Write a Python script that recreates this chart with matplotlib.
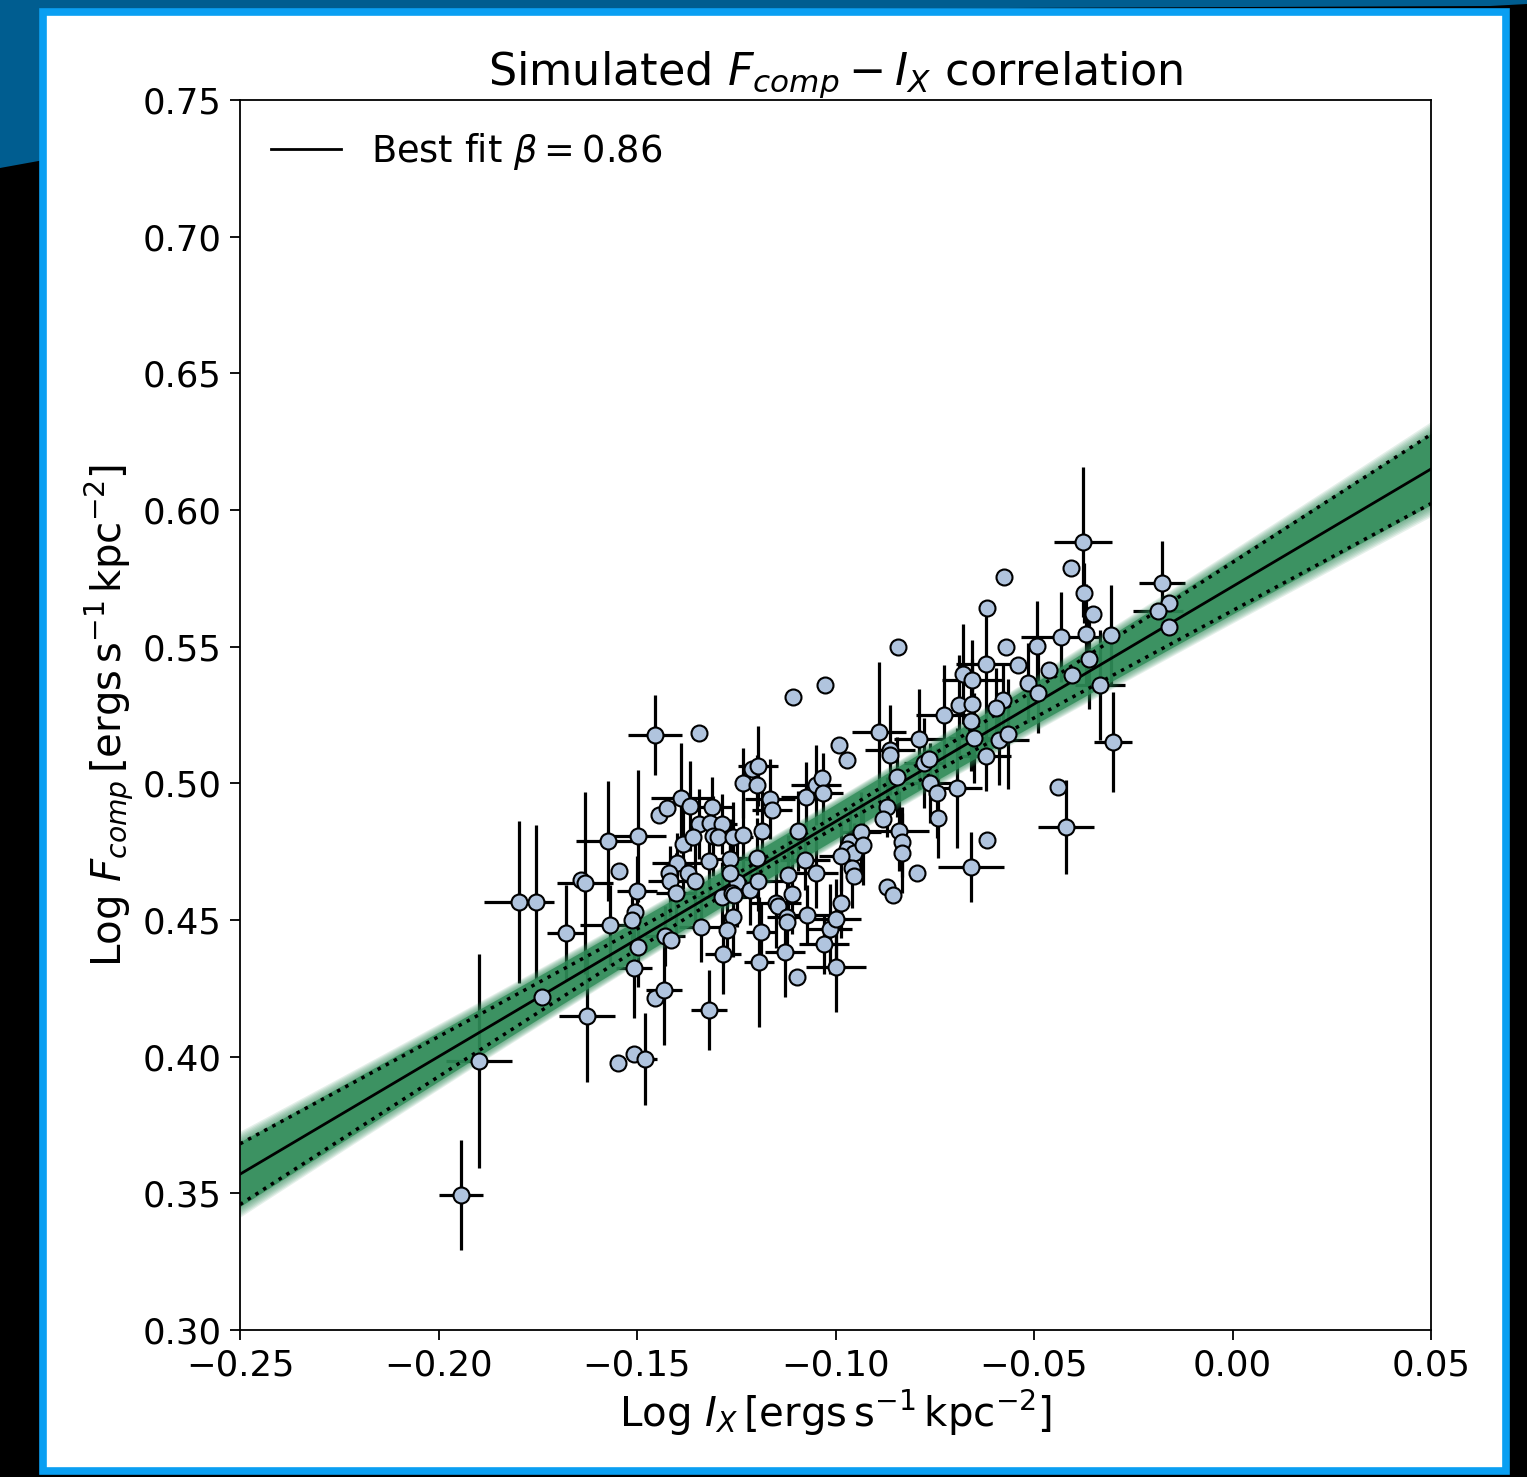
import numpy as np
import matplotlib
matplotlib.use("Agg")
import matplotlib.pyplot as plt
from matplotlib.patches import Rectangle, Polygon

# ---- simulated sample: log I_X, log F_comp and their 1-sigma errors ----
log_ix = [
    -0.1943, -0.1898, -0.1739, -0.1797, -0.1754, -0.1679, -0.1626, -0.1641, -0.1631, -0.1573,
    -0.1545, -0.1568, -0.1497, -0.1500, -0.1505, -0.1513, -0.1497, -0.1508, -0.1455, -0.1432,
    -0.1548, -0.1508, -0.1480, -0.1455, -0.1344, -0.1389, -0.1445, -0.1424, -0.1366, -0.1311,
    -0.1344, -0.1316, -0.1286, -0.1384, -0.1359, -0.1309, -0.1296, -0.1258, -0.1399, -0.1419,
    -0.1417, -0.1402, -0.1372, -0.1354, -0.1319, -0.1266, -0.1248, -0.1286, -0.1261, -0.1258,
    -0.1273, -0.1429, -0.1414, -0.1339, -0.1283, -0.1319, -0.1233, -0.1210, -0.1195, -0.1198,
    -0.1165, -0.1160, -0.1233, -0.1185, -0.1198, -0.1215, -0.1195, -0.1266, -0.1256, -0.1193,
    -0.1188, -0.1107, -0.1026, -0.1074, -0.1049, -0.1034, -0.1031, -0.1094, -0.1077, -0.1120,
    -0.1049, -0.1110, -0.1150, -0.1145, -0.1122, -0.1122, -0.1072, -0.1127, -0.1097, -0.1029,
    -0.1014, -0.0999, -0.0986, -0.0999, -0.0971, -0.0991, -0.0963, -0.0971, -0.0953, -0.0986,
    -0.0958, -0.0953, -0.0936, -0.0931, -0.0840, -0.0832, -0.0832, -0.0843, -0.0890, -0.0863,
    -0.0863, -0.0845, -0.0870, -0.0880, -0.0870, -0.0855, -0.0790, -0.0777, -0.0764, -0.0762,
    -0.0744, -0.0742, -0.0694, -0.0795, -0.0727, -0.0689, -0.0656, -0.0659, -0.0651, -0.0588,
    -0.0565, -0.0621, -0.0679, -0.0656, -0.0621, -0.0540, -0.0462, -0.0571, -0.0492, -0.0576,
    -0.0618, -0.0515, -0.0490, -0.0578, -0.0596, -0.0404, -0.0361, -0.0432, -0.0369, -0.0306,
    -0.0351, -0.0374, -0.0407, -0.0377, -0.0334, -0.0301, -0.0440, -0.0419, -0.0659, -0.0618,
    -0.0178, -0.0160, -0.0188, -0.0160,
]
log_fcomp = [
    0.3494, 0.3984, 0.4218, 0.4566, 0.4566, 0.4452, 0.4149, 0.4646, 0.4635, 0.4789,
    0.4679, 0.4482, 0.4807, 0.4606, 0.4529, 0.4500, 0.4401, 0.4324, 0.4215, 0.4244,
    0.3977, 0.4010, 0.3991, 0.5177, 0.5184, 0.4946, 0.4884, 0.4910, 0.4917, 0.4913,
    0.4851, 0.4855, 0.4851, 0.4778, 0.4804, 0.4807, 0.4804, 0.4804, 0.4709, 0.4672,
    0.4643, 0.4599, 0.4672, 0.4643, 0.4716, 0.4723, 0.4639, 0.4584, 0.4599, 0.4511,
    0.4463, 0.4442, 0.4427, 0.4474, 0.4376, 0.4171, 0.5001, 0.5053, 0.5064, 0.4994,
    0.4943, 0.4903, 0.4811, 0.4826, 0.4727, 0.4610, 0.4643, 0.4672, 0.4592, 0.4346,
    0.4456, 0.5316, 0.5360, 0.4950, 0.4994, 0.5020, 0.4965, 0.4826, 0.4720, 0.4665,
    0.4672, 0.4595, 0.4562, 0.4551, 0.4511, 0.4493, 0.4518, 0.4383, 0.4292, 0.4412,
    0.4467, 0.4504, 0.4562, 0.4328, 0.5085, 0.5140, 0.4785, 0.4760, 0.4745, 0.4734,
    0.4690, 0.4661, 0.4822, 0.4775, 0.4826, 0.4785, 0.4745, 0.5499, 0.5188, 0.5122,
    0.5104, 0.5023, 0.4913, 0.4870, 0.4621, 0.4592, 0.5162, 0.5074, 0.5089, 0.5001,
    0.4965, 0.4873, 0.4983, 0.4672, 0.5250, 0.5287, 0.5290, 0.5228, 0.5166, 0.5159,
    0.5181, 0.5100, 0.5400, 0.5378, 0.5437, 0.5433, 0.5415, 0.5499, 0.5503, 0.5755,
    0.5642, 0.5367, 0.5331, 0.5305, 0.5276, 0.5396, 0.5455, 0.5535, 0.5546, 0.5543,
    0.5620, 0.5696, 0.5788, 0.5883, 0.5360, 0.5151, 0.4987, 0.4840, 0.4694, 0.4793,
    0.5733, 0.5660, 0.5631, 0.5572,
]
err_ix = [
    0.0055, 0.0083, 0.0, 0.0088, 0.0, 0.0048, 0.0071, 0.0, 0.0071, 0.0081,
    0.0, 0.0076, 0.0071, 0.0050, 0.0, 0.0, 0.0, 0.0045, 0.0, 0.0045,
    0.0, 0.0, 0.0030, 0.0068, 0.0, 0.0076, 0.0, 0.0, 0.0, 0.0050,
    0.0, 0.0, 0.0038, 0.0, 0.0, 0.0, 0.0, 0.0050, 0.0063, 0.0,
    0.0055, 0.0050, 0.0, 0.0, 0.0, 0.0055, 0.0, 0.0063, 0.0, 0.0,
    0.0, 0.0050, 0.0, 0.0055, 0.0045, 0.0045, 0.0, 0.0, 0.0050, 0.0,
    0.0063, 0.0050, 0.0, 0.0, 0.0050, 0.0, 0.0063, 0.0, 0.0, 0.0038,
    0.0038, 0.0, 0.0, 0.0063, 0.0063, 0.0, 0.0050, 0.0, 0.0063, 0.0,
    0.0055, 0.0, 0.0063, 0.0, 0.0050, 0.0, 0.0055, 0.0050, 0.0, 0.0063,
    0.0055, 0.0063, 0.0, 0.0076, 0.0, 0.0, 0.0, 0.0, 0.0, 0.0055,
    0.0, 0.0, 0.0050, 0.0, 0.0076, 0.0, 0.0, 0.0, 0.0068, 0.0063,
    0.0, 0.0, 0.0, 0.0, 0.0, 0.0, 0.0063, 0.0050, 0.0, 0.0063,
    0.0, 0.0, 0.0063, 0.0, 0.0071, 0.0, 0.0, 0.0, 0.0063, 0.0076,
    0.0, 0.0063, 0.0, 0.0076, 0.0076, 0.0, 0.0, 0.0, 0.0, 0.0,
    0.0, 0.0, 0.0, 0.0, 0.0, 0.0, 0.0, 0.0101, 0.0, 0.0,
    0.0, 0.0, 0.0, 0.0073, 0.0063, 0.0048, 0.0, 0.0071, 0.0083, 0.0,
    0.0058, 0.0, 0.0063, 0.0,
]
err_fcomp = [
    0.0201, 0.0391, 0.0, 0.0296, 0.0282, 0.0176, 0.0241, 0.0, 0.0333, 0.0220,
    0.0, 0.0146, 0.0241, 0.0128, 0.0, 0.0110, 0.0146, 0.0183, 0.0, 0.0201,
    0.0, 0.0, 0.0168, 0.0146, 0.0, 0.0201, 0.0, 0.0, 0.0165, 0.0110,
    0.0128, 0.0, 0.0110, 0.0165, 0.0, 0.0146, 0.0, 0.0128, 0.0110, 0.0,
    0.0128, 0.0146, 0.0, 0.0146, 0.0128, 0.0146, 0.0165, 0.0128, 0.0, 0.0146,
    0.0110, 0.0110, 0.0, 0.0128, 0.0146, 0.0146, 0.0128, 0.0, 0.0146, 0.0110,
    0.0146, 0.0, 0.0128, 0.0146, 0.0146, 0.0128, 0.0110, 0.0110, 0.0, 0.0238,
    0.0110, 0.0, 0.0, 0.0128, 0.0146, 0.0, 0.0146, 0.0146, 0.0110, 0.0146,
    0.0128, 0.0146, 0.0165, 0.0, 0.0146, 0.0, 0.0110, 0.0165, 0.0, 0.0110,
    0.0165, 0.0146, 0.0128, 0.0165, 0.0, 0.0, 0.0128, 0.0, 0.0110, 0.0128,
    0.0146, 0.0, 0.0146, 0.0146, 0.0146, 0.0128, 0.0146, 0.0, 0.0256, 0.0165,
    0.0, 0.0146, 0.0110, 0.0, 0.0, 0.0, 0.0183, 0.0165, 0.0, 0.0146,
    0.0165, 0.0146, 0.0220, 0.0, 0.0183, 0.0183, 0.0165, 0.0183, 0.0165, 0.0165,
    0.0201, 0.0128, 0.0183, 0.0146, 0.0220, 0.0, 0.0, 0.0, 0.0165, 0.0,
    0.0, 0.0146, 0.0146, 0.0128, 0.0146, 0.0, 0.0183, 0.0165, 0.0183, 0.0183,
    0.0, 0.0110, 0.0, 0.0274, 0.0201, 0.0183, 0.0, 0.0172, 0.0128, 0.0,
    0.0154, 0.0, 0.0, 0.0,
]

# ---- best-fit relation and its uncertainty ----
beta = 0.86            # slope
alpha_fit = 0.572      # intercept at log I_X = 0
pivot = -0.11          # decorrelation point of the fit
sig_pivot = 0.002      # 1-sigma of the relation at the pivot
sig_beta = 0.078       # 1-sigma of the slope
band_pivot = 0.0075    # half-width of posterior band at the pivot
band_beta = 0.085      # slope spread of the posterior band

xlim = (-0.25, 0.05)
ylim = (0.30, 0.75)
xticks = [-0.25, -0.20, -0.15, -0.10, -0.05, 0.00, 0.05]
yticks = [0.30, 0.35, 0.40, 0.45, 0.50, 0.55, 0.60, 0.65, 0.70, 0.75]

W, H = 1527, 1477
fig = plt.figure(figsize=(W / 100, H / 100), dpi=100, facecolor="black")


def fx(px):
    return px / W


def fy(py):
    return 1 - py / H


# decorative framing of the figure (kept behind the axes)
fig.patches.append(Polygon(
    [(fx(0), fy(0)), (fx(W), fy(0)), (fx(W), fy(4)), (fx(1490), fy(6)),
     (fx(44), fy(12)), (fx(44), fy(160)), (fx(0), fy(168))],
    closed=True, transform=fig.transFigure, facecolor="#005d90",
    edgecolor="none", zorder=-3))
fig.patches.append(Rectangle(
    (fx(43), fy(1471)), fx(1506) - fx(43), fy(12) - fy(1471),
    transform=fig.transFigure, facecolor="white", edgecolor="#0a9ff2",
    linewidth=5.5, zorder=-2))

ax = fig.add_axes([fx(240), fy(1330), fx(1431) - fx(240), fy(100) - fy(1330)])
ax.set_zorder(1)
ax.set_facecolor("white")

# error bars underneath everything
ax.errorbar(log_ix, log_fcomp, xerr=err_ix, yerr=err_fcomp, fmt="none",
            ecolor="black", elinewidth=2.3, capsize=0, zorder=1)

# posterior band, built up in soft layers
xx = np.linspace(xlim[0], xlim[1], 400)
yfit = alpha_fit + beta * xx
half = np.sqrt(band_pivot ** 2 + ((xx - pivot) * band_beta) ** 2)
for f in np.linspace(1.12, 0.84, 8):
    ax.fill_between(xx, yfit - f * half, yfit + f * half, color="#2e8b57",
                    alpha=0.12, linewidth=0, zorder=2)
ax.fill_between(xx, yfit - 0.84 * half, yfit + 0.84 * half, color="#2e8b57",
                alpha=0.8, linewidth=0, zorder=2)

# best-fit line and its 1-sigma confidence limits
ax.plot(xx, yfit, color="black", lw=2.0, zorder=3, label=r"Best fit $\beta = 0.86$")
conf = np.sqrt(sig_pivot ** 2 + ((xx - pivot) * sig_beta) ** 2)
ax.plot(xx, yfit + conf, color="black", lw=2.5, ls=":", zorder=3)
ax.plot(xx, yfit - conf, color="black", lw=2.5, ls=":", zorder=3)

# data points on top
ax.plot(log_ix, log_fcomp, ls="none", marker="o", ms=11.5, mfc="#b0c4de",
        mec="black", mew=1.5, zorder=4)

ax.set_xlim(*xlim)
ax.set_ylim(*ylim)
ax.set_xticks(xticks)
ax.set_yticks(yticks)
ax.set_xticklabels([f"{t:.2f}".replace("-", "\u2212") for t in xticks])
ax.set_yticklabels([f"{t:.2f}" for t in yticks])
ax.tick_params(labelsize=25.5, length=7, width=1.3, pad=6)
for s in ax.spines.values():
    s.set_linewidth(1.3)

ax.set_title(r"Simulated $F_{comp} - I_X$ correlation", fontsize=32, pad=10)
ax.set_xlabel(r"Log $I_X\,[\mathrm{ergs\,s^{-1}\,kpc^{-2}}]$", fontsize=29)
ax.set_ylabel(r"Log $F_{comp}\,[\mathrm{ergs\,s^{-1}\,kpc^{-2}}]$", fontsize=29,
              labelpad=4)

ax.legend(loc="upper left", frameon=False, fontsize=26.5, handlelength=1.9,
          borderaxespad=0.45)

fig.savefig("out.png", dpi=100, facecolor=fig.get_facecolor())
